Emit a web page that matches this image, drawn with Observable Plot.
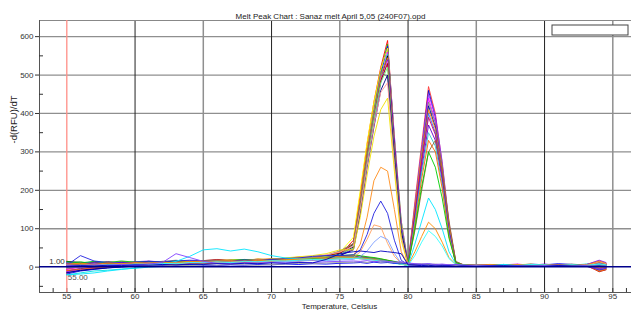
<!DOCTYPE html>
<html><head><meta charset="utf-8">
<script src="https://cdn.jsdelivr.net/npm/d3@7"></script>
<script src="https://cdn.jsdelivr.net/npm/@observablehq/plot@0.6"></script>
<style>body{margin:0;background:#fff} svg{display:block}</style>
</head><body><div id="chart"></div>
<script>
const chartTitle = "Melt Peak Chart : Sanaz melt April 5,05 (240F07).opd";
const xLabel = "Temperature, Celsius";
const yLabel = "-d(RFU)/dT";
const cursorTemp = 55;
const cursorValue = 1;
const cursorTempLabel = "55.00";
const cursorValueLabel = "1.00";

const temps = [55,56,57,58,59,60,61,62,63,64,65,66,67,68,69,70,71,72,73,74,75,
  76,76.5,77,77.5,78,78.5,79,79.5,80,80.5,81,81.5,82,82.5,83,83.5,84,
  85,86,87,88,89,90,91,92,93,94,94.5];

const xMajorTicks = [55,60,65,70,75,80,85,90,95];
const xGridDark = [60,70,80,90];
const xGridLight = [65,75,85,95];
const xMinorTicks = [54,55,56,57,58,59,60,61,62,63,64,65,66,67,68,69,70,71,72,73,74,75,76,77,78,79,80,81,82,83,84,85,86,87,88,89,90,91,92,93,94,95,96];
const yMajorTicks = [0,100,200,300,400,500,600];
const yGridTicks = [100,200,300,400,500,600];
const yMinorTicks = [-50,50,150,250,350,450,550];

const wellColors = [
  "#ff0000","#00c000","#0000ff","#ffff00","#ff00ff","#00e0e0","#000000","#ff8000",
  "#8000ff","#ff66cc","#a00000","#66ff66","#808080","#000080","#ff9999","#f0e000",
  "#ff3333","#0000cc","#9933ff","#ff00ff","#808080","#000099","#ff8000","#3366ff",
  "#cc0066","#6600cc","#33cccc","#ff6600","#996633","#00cc00",
  "#ff8c1a","#2020e0","#ffa060","#7f9fff","#00e5ff","#ff8c00","#33ffff",
  "#0000ff","#a0a0a0","#8040ff","#0000c0"
];

// 55..75 °C
const baseRows = [
  [-5,2,6,4,8,7,10,9,12,11,14,13,16,15,18,17,20,19,23,25,32],
  [10,14,8,10,6,9,12,8,11,15,12,16,14,18,15,19,22,20,24,28,35],
  [-18,-10,-6,-2,0,3,5,4,8,10,9,12,11,14,16,15,18,21,22,26,30],
  [5,8,6,10,12,9,11,14,13,16,15,13,15,17,20,18,21,24,26,29,38],
  [-12,-6,-3,0,2,5,4,7,6,9,11,10,13,15,14,17,19,18,22,24,28],
  [-20,-15,-10,-8,-5,-3,0,2,4,6,8,10,12,11,14,16,18,20,23,27,33],
  [15,12,10,14,11,13,10,12,15,13,16,14,17,19,16,20,22,21,25,28,36],
  [0,4,2,6,5,8,12,15,13,10,12,15,18,16,19,22,20,24,27,30,40],
  [8,6,9,5,7,10,8,11,9,13,12,15,13,16,18,17,21,23,22,26,31],
  [-8,-3,1,3,6,4,7,10,12,11,13,12,15,17,16,18,17,20,24,27,34],
  [12,9,13,10,14,12,15,13,16,14,17,20,18,17,21,19,23,26,25,29,37],
  [-2,1,5,3,7,6,9,8,10,13,15,14,12,15,18,20,19,22,25,28,33],
  [3,7,4,8,6,10,9,12,14,12,11,13,16,15,17,16,20,22,26,31,42],
  [-15,-8,-4,-1,2,4,6,5,8,9,12,11,14,13,16,19,18,21,23,25,30],
  [6,10,7,11,9,12,10,14,13,17,15,18,16,20,19,22,21,25,28,32,39],
  [2,5,8,6,10,9,11,13,12,15,14,17,19,18,21,20,24,27,30,35,45],
  [4,8,5,9,7,10,8,11,10,13,12,14,13,16,15,17,19,18,20,22,25],
  [-10,-4,0,2,4,6,5,8,7,10,12,11,13,12,15,14,17,19,18,21,24],
  [10,12,9,13,11,14,16,13,15,17,14,16,18,15,19,17,20,22,21,24,27],
  [-6,0,3,1,5,4,8,7,11,9,12,10,14,13,12,15,16,18,20,19,23],
  [7,5,9,6,10,8,11,15,18,14,12,15,13,17,16,18,17,20,23,22,26],
  [-14,-9,-5,-2,1,3,6,5,9,8,10,13,12,15,14,16,18,17,19,22,25],
  [2,6,3,7,5,9,8,10,13,12,15,14,16,18,17,19,21,20,22,24,28],
  [12,10,14,11,13,10,12,14,11,15,13,16,14,17,19,18,20,19,22,25,29],
  [-4,2,0,4,3,7,6,9,8,11,10,13,15,14,16,15,18,20,19,21,24],
  [9,7,11,8,12,10,13,11,14,12,16,15,17,16,18,20,19,22,21,23,27],
  [0,3,6,4,8,7,10,12,11,14,13,12,15,17,16,18,20,22,24,23,26],
  [-9,-5,-2,1,3,2,5,7,6,9,11,10,12,14,13,15,17,16,19,21,24],
  [5,9,6,10,8,11,9,12,10,14,12,15,17,16,18,17,20,19,21,24,28],
  [14,11,15,12,16,13,15,12,16,14,17,15,18,20,17,21,19,23,22,25,30],
  [3,6,4,8,7,9,11,10,13,15,14,16,18,17,19,21,20,22,24,26,28],
  [5,30,16,12,10,13,15,14,16,18,17,15,16,19,17,20,22,24,28,30,30],
  [-2,3,1,5,4,7,6,9,8,11,13,12,14,13,16,15,17,19,18,20,22],
  [6,4,8,5,9,7,10,8,12,11,13,10,12,14,13,15,14,16,18,17,19],
  [-20,-18,-15,-10,-6,-2,3,8,15,28,45,48,42,47,40,30,24,22,20,22,25],
  [8,10,7,11,9,12,10,13,11,14,16,15,17,14,18,16,19,21,20,22,24],
  [1,5,3,6,4,8,7,10,9,12,11,14,12,15,14,17,16,18,20,19,22],
  [0,2,1,3,2,4,3,5,4,6,5,4,6,5,7,6,8,7,9,8,10],
  [-3,0,2,1,3,2,4,3,5,4,6,5,7,6,5,7,8,10,9,11,12],
  [5,3,6,4,7,5,8,12,35,25,15,10,9,11,10,12,11,13,12,14,15],
  [2,4,3,5,4,6,5,7,6,8,7,9,8,10,9,11,10,12,11,20,35]
];

// 76..84 °C
const midRows = [
  [70,190,320,430,520,590,330,110,8,5,3,6,4,2,5,3,4],
  [60,170,300,410,510,580,320,100,6,4,7,3,5,3,2,4,3],
  [55,160,290,400,500,575,340,120,10,6,4,5,3,6,4,2,3],
  [78,200,325,430,515,570,335,120,9,3,5,4,6,3,4,5,2],
  [50,150,280,395,490,560,325,105,9,5,6,3,4,5,3,3,4],
  [58,165,290,400,495,555,300,90,6,4,3,5,2,4,3,5,3],
  [52,155,285,390,485,550,315,100,8,6,4,3,5,3,4,2,3],
  [62,175,300,405,500,545,290,85,5,3,4,6,3,5,2,4,3],
  [48,145,270,380,480,540,320,110,9,5,3,4,5,3,4,3,2],
  [55,160,285,390,490,535,295,90,7,4,6,3,4,2,5,3,4],
  [60,165,290,395,485,530,305,95,6,5,3,4,3,5,3,4,2],
  [50,150,275,385,480,520,300,100,8,4,5,3,6,4,3,2,3],
  [62,170,290,400,510,495,280,85,6,3,4,5,3,4,2,3,4],
  [45,140,260,365,460,500,290,95,7,5,3,4,4,3,5,3,2],
  [55,150,265,370,455,480,270,80,6,4,5,3,2,4,3,4,3],
  [45,130,240,340,410,440,250,70,6,4,3,5,3,2,4,3,2],
  [28,26,24,22,19,16,13,9,6,170,320,470,400,270,110,12,6],
  [25,23,21,20,18,15,12,8,5,150,300,460,390,260,100,10,5],
  [30,28,26,23,20,17,14,10,7,160,310,450,395,275,115,14,7],
  [24,22,20,19,17,14,11,8,5,140,290,440,380,255,95,9,5],
  [29,27,25,22,20,16,13,9,6,155,300,430,375,265,105,12,6],
  [26,24,22,21,18,15,12,8,5,135,280,420,365,250,95,10,5],
  [31,29,26,24,21,18,14,10,7,150,290,410,360,255,110,13,7],
  [30,27,25,23,20,16,12,9,6,130,270,400,350,240,95,11,6],
  [25,24,22,20,18,15,11,8,5,140,275,390,345,235,90,10,5],
  [28,26,24,21,19,16,13,9,6,125,255,370,330,225,90,12,6],
  [27,25,23,22,19,15,12,8,5,120,245,350,315,215,85,10,5],
  [24,22,21,19,17,14,11,8,5,110,230,330,300,205,80,9,5],
  [28,26,24,22,20,17,14,10,7,95,200,300,330,250,120,15,7],
  [32,30,27,25,22,18,15,11,8,100,210,300,260,180,75,12,6],
  [30,60,130,225,260,250,150,40,6,4,3,5,3,4,2,3,4],
  [32,45,85,140,172,140,70,18,6,5,3,4,5,3,4,3,2],
  [25,40,72,110,105,62,28,10,5,4,5,3,4,3,2,4,3],
  [20,28,42,65,80,72,36,10,5,3,4,5,3,4,3,2,3],
  [26,24,22,20,18,15,12,9,6,60,120,180,150,100,40,8,5],
  [25,23,22,20,17,14,11,8,5,40,80,117,100,65,25,7,4],
  [23,22,20,18,16,13,10,7,4,30,65,95,80,55,22,6,3],
  [11,12,10,13,11,12,10,11,9,8,7,8,6,7,5,6,5],
  [13,14,12,15,13,14,12,13,10,8,9,7,8,6,7,5,6],
  [16,15,17,14,16,15,13,14,11,9,8,9,7,8,6,7,5],
  [40,42,40,38,42,40,38,35,6,5,4,5,3,4,3,2,3]
];

// 85..94.5 °C
const tailRows = [
  [4,6,3,5,7,4,6,3,5,12,8],[3,2,5,4,3,6,4,5,3,-8,-4],[6,4,7,5,8,6,9,7,6,15,10],
  [2,5,3,6,4,3,5,4,7,5,3],[5,3,6,8,5,7,4,6,4,-10,-6],[7,5,4,6,3,5,7,5,8,10,6],
  [3,6,5,3,6,4,3,6,4,2,4],[4,2,6,4,7,5,6,3,5,-5,-2],[6,7,4,7,5,8,5,7,6,18,12],
  [2,4,5,3,4,2,6,4,3,6,2],[5,3,2,5,6,4,3,5,7,-12,-7],[3,5,7,4,3,6,5,4,2,8,5],
  [7,4,5,7,4,3,6,8,5,14,9],[4,6,3,2,5,7,4,3,6,-3,0],[2,3,6,5,3,5,7,5,4,7,4],
  [5,7,4,6,8,4,5,6,3,11,7],[6,4,3,6,4,6,3,4,5,-6,-3],[3,6,5,4,7,3,5,7,4,9,6],
  [5,2,4,7,3,5,6,3,6,4,2],[4,5,6,3,5,7,4,5,3,13,8],[7,3,5,4,6,3,5,4,7,-9,-5],
  [2,6,4,5,3,6,3,6,4,6,3],[5,4,7,6,4,5,7,3,5,16,10],[3,5,2,4,6,4,5,6,2,1,2],
  [6,3,5,7,5,6,3,5,6,-4,-1],[4,7,6,3,4,5,6,4,5,10,7],[5,4,3,5,7,3,4,7,3,5,3],
  [3,5,6,4,3,7,5,3,6,-11,-6],[6,3,4,6,5,4,6,5,4,12,8],[2,6,5,3,6,5,3,6,5,3,1],
  [4,5,3,7,4,6,4,3,7,8,5],[5,3,6,4,5,3,7,5,4,-7,-3],[3,6,4,5,3,5,4,6,3,14,9],
  [6,4,5,3,6,4,5,4,6,2,3],[4,3,7,5,4,6,3,5,4,7,4],[5,6,4,6,5,3,6,4,5,-2,0],
  [3,4,5,4,7,5,4,6,3,9,6],[2,3,2,4,3,2,4,3,2,4,2],[4,2,3,2,4,3,2,4,3,5,3],
  [3,4,2,3,2,4,3,2,4,-5,-2],[2,3,4,2,3,2,4,3,2,3,2]
];

const points = wellColors.flatMap((color, i) =>
  baseRows[i].concat(midRows[i], tailRows[i]).map((v, j) => ({well: i, t: temps[j], v, color}))
);

const xDomain = [53, 96.37];
const yDomain = [-66, 642];

const chart = Plot.plot({
  width: 631, height: 310,
  marginTop: 20, marginBottom: 18, marginLeft: 39, marginRight: 0,
  style: {fontFamily: "'Liberation Sans', Arial, sans-serif", fontSize: "8px", color: "#333", background: "#fff", overflow: "visible"},
  x: {domain: xDomain},
  y: {domain: yDomain},
  marks: [
    Plot.gridY(yGridTicks, {stroke: "#8f8f8f", strokeOpacity: 1, strokeWidth: 1.3}),
    Plot.gridX(xGridDark, {stroke: "#222", strokeOpacity: 1, strokeWidth: 1}),
    Plot.gridX(xGridLight, {stroke: "#8f8f8f", strokeOpacity: 1, strokeWidth: 1.5}),
    Plot.ruleY([yDomain[1]], {stroke: "#888"}),
    Plot.ruleX([xDomain[0]], {stroke: "#555"}),
    Plot.ruleY([yDomain[0]], {stroke: "#555"}),
    Plot.tickX(xMinorTicks, {insetTop: 268, stroke: "#333"}),
    Plot.tickY(yMinorTicks, {insetRight: 588, stroke: "#333"}),
    Plot.axisX({ticks: xMajorTicks, tickSize: 0, tickPadding: 1, label: null, color: "#333"}),
    Plot.axisY({ticks: yMajorTicks, tickSize: 4, tickPadding: 2, label: null, color: "#333"}),
    Plot.ruleX([cursorTemp], {stroke: "#ff8f87", strokeWidth: 1.3}),
    Plot.text([cursorTempLabel], {x: () => cursorTemp, y: () => cursorValue, textAnchor: "start", dx: 1, dy: 11, fill: "#555"}),
    Plot.line(points, {x: "t", y: "v", z: "well", stroke: "color", strokeWidth: 0.9}),
    Plot.ruleY([cursorValue], {stroke: "#00008b", strokeWidth: 1.5}),
    Plot.text([cursorValueLabel], {x: () => cursorTemp, y: () => cursorValue, textAnchor: "end", dx: -2, dy: -5, fill: "#333"}),
    Plot.text([chartTitle], {frameAnchor: "top", dy: -7, dx: -5, fill: "#222"}),
    Plot.text([yLabel], {frameAnchor: "left", rotate: -90, dx: -26, dy: -13, fontSize: 9.5, fill: "#222"}),
    Plot.text([xLabel], {frameAnchor: "bottom", dy: 16.5, dx: 4, fill: "#222"})
  ]
});

d3.select(chart).append("rect")
  .attr("x", 552).attr("y", 25).attr("width", 76).attr("height", 10)
  .attr("fill", "#fff").attr("stroke", "#444").attr("stroke-width", 1);

document.getElementById("chart").appendChild(chart);
</script>
</body></html>
